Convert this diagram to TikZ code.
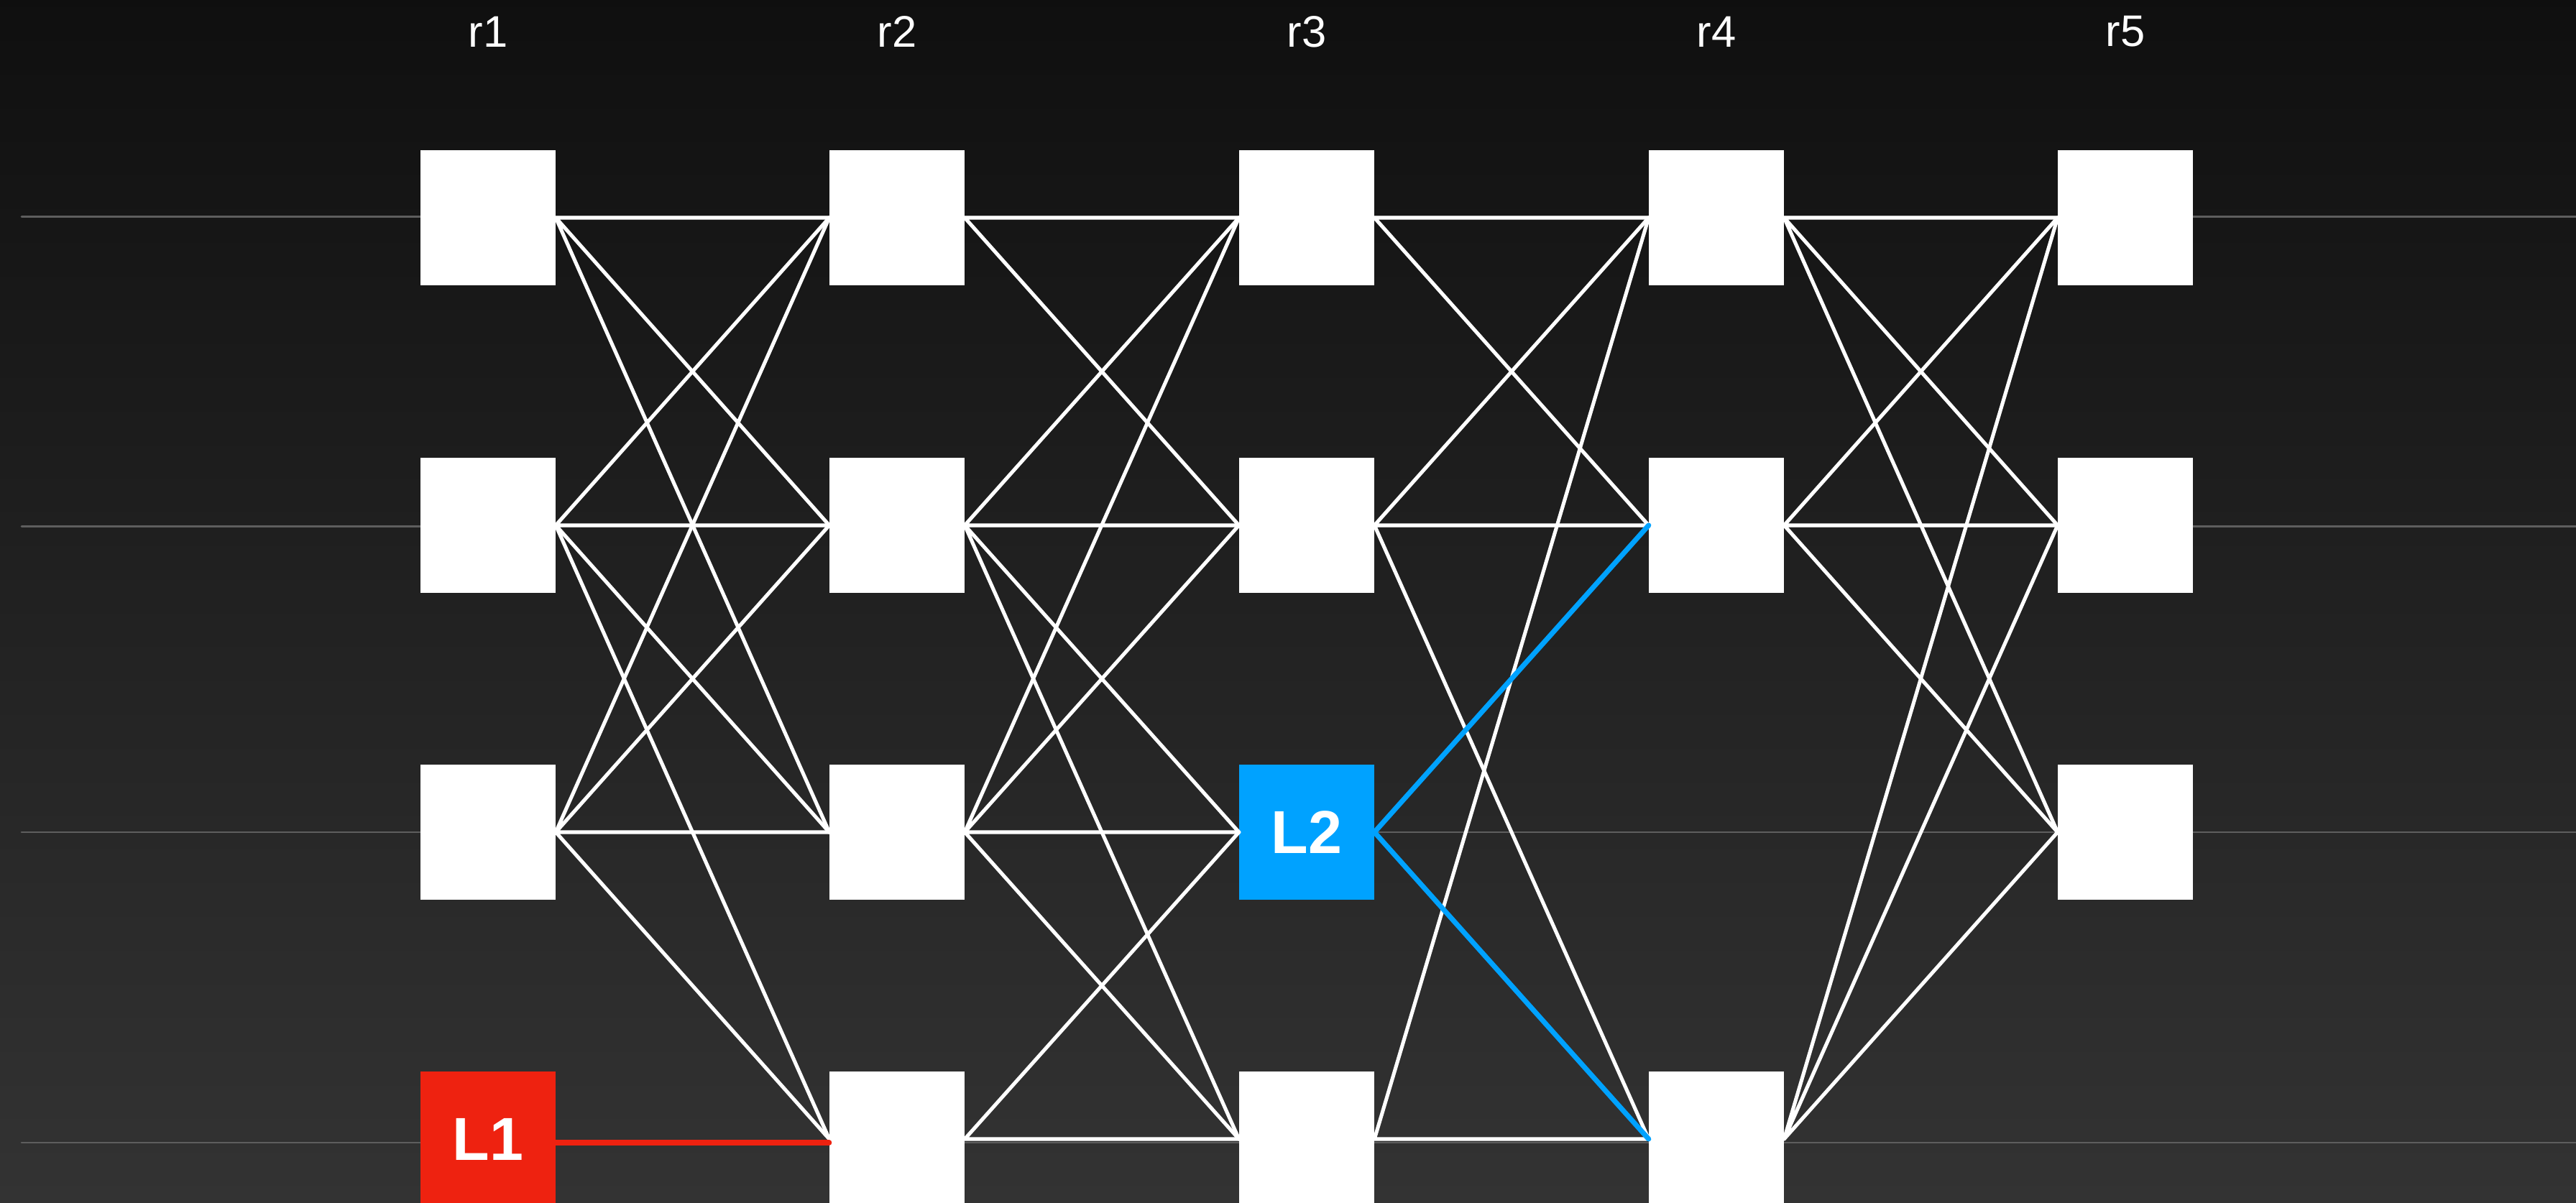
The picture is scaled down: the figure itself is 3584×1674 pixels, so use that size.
\documentclass[tikz,border=0pt]{standalone}
\usepackage{fontspec}
\setmainfont{Liberation Sans}
\usepackage{xcolor}
\definecolor{lred}{HTML}{EE2210}
\definecolor{lblue}{HTML}{00A2FF}
\definecolor{guide}{HTML}{5E5E5E}

\begin{document}
\begin{tikzpicture}[line cap=round,line join=round,x=0.01cm,y=-0.01cm,
		box/.style={fill=white,minimum size=1.87cm,inner sep=0pt},
		wire/.style={white,line width=1.45pt},
		lab/.style={text=white,font=\fontsize{17.5}{20}\selectfont},
		hot/.style={text=white,font=\bfseries\fontsize{24}{28}\selectfont}]
			\clip (0,0) rectangle (3584,1674);
			\shade[top color=black!94,bottom color=black!80] (0,0) rectangle (3584,1674);
			\draw[guide,line width=0.85pt] (30,302) -- (3584,302);
			\draw[guide,line width=0.85pt] (30,733) -- (3584,733);
			\draw[guide,line width=0.85pt] (30,1158) -- (3584,1158);
			\draw[guide,line width=0.85pt] (30,1590) -- (3584,1590);
			\node[lab] (lab1) at (679,44) {r1};
			\node[lab] (lab2) at (1248,44) {r2};
			\node[lab] (lab3) at (1818,44) {r3};
			\node[lab] (lab4) at (2388,44) {r4};
			\node[lab] (lab5) at (2957,44) {r5};
			\node[box] (r1a) at (679,303) {};
			\node[box] (r1b) at (679,731) {};
			\node[box] (r1c) at (679,1158) {};
			\node[box,fill=lred,hot] (r1d) at (679,1585) {L1};
			\node[box] (r2a) at (1248,303) {};
			\node[box] (r2b) at (1248,731) {};
			\node[box] (r2c) at (1248,1158) {};
			\node[box] (r2d) at (1248,1585) {};
			\node[box] (r3a) at (1818,303) {};
			\node[box] (r3b) at (1818,731) {};
			\node[box,fill=lblue,hot] (r3c) at (1818,1158) {L2};
			\node[box] (r3d) at (1818,1585) {};
			\node[box] (r4a) at (2388,303) {};
			\node[box] (r4b) at (2388,731) {};
			\node[box] (r4d) at (2388,1585) {};
			\node[box] (r5a) at (2957,303) {};
			\node[box] (r5b) at (2957,731) {};
			\node[box] (r5c) at (2957,1158) {};
			\draw[wire] (r1a.east) -- (r2a.west) (r1a.east) -- (r2b.west) (r1a.east) -- (r2c.west);
			\draw[wire] (r1b.east) -- (r2a.west) (r1b.east) -- (r2b.west) (r1b.east) -- (r2c.west) (r1b.east) -- (r2d.west);
			\draw[wire] (r1c.east) -- (r2a.west) (r1c.east) -- (r2b.west) (r1c.east) -- (r2c.west) (r1c.east) -- (r2d.west);
			\draw[lred,line width=2pt] ([yshift=-0.05cm]r1d.east) -- ([yshift=-0.05cm]r2d.west);
			\draw[wire] (r2a.east) -- (r3a.west) (r2a.east) -- (r3b.west);
			\draw[wire] (r2b.east) -- (r3a.west) (r2b.east) -- (r3b.west) (r2b.east) -- (r3c.west) (r2b.east) -- (r3d.west);
			\draw[wire] (r2c.east) -- (r3a.west) (r2c.east) -- (r3b.west) (r2c.east) -- (r3c.west) (r2c.east) -- (r3d.west);
			\draw[wire] (r2d.east) -- (r3c.west) (r2d.east) -- (r3d.west);
			\draw[wire] (r3a.east) -- (r4a.west) (r3a.east) -- (r4b.west);
			\draw[wire] (r3b.east) -- (r4a.west) (r3b.east) -- (r4b.west) (r3b.east) -- (r4d.west);
			\draw[wire] (r3d.east) -- (r4a.west) (r3d.east) -- (r4d.west);
			\draw[lblue,line width=2pt] (r3c.east) -- (r4b.west) (r3c.east) -- (r4d.west);
			\draw[wire] (r4a.east) -- (r5a.west) (r4a.east) -- (r5b.west) (r4a.east) -- (r5c.west);
			\draw[wire] (r4b.east) -- (r5a.west) (r4b.east) -- (r5b.west) (r4b.east) -- (r5c.west);
			\draw[wire] (r4d.east) -- (r5a.west) (r4d.east) -- (r5b.west) (r4d.east) -- (r5c.west);
		\end{tikzpicture}
\end{document}
